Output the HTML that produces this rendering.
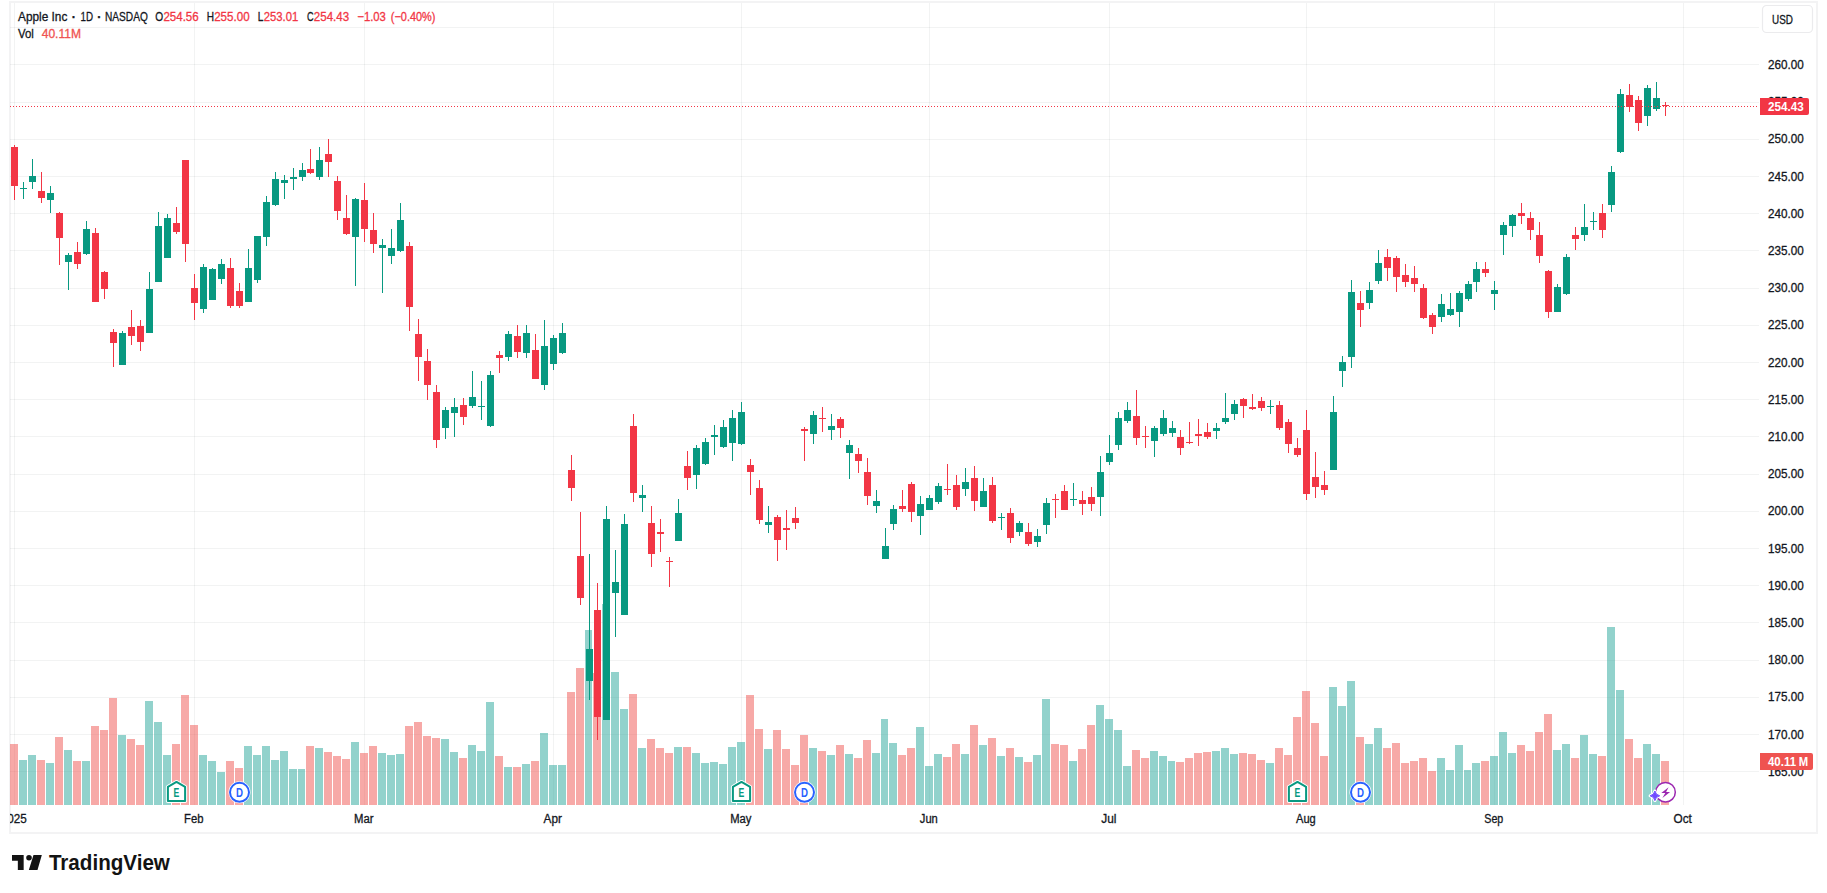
<!DOCTYPE html>
<html lang="en"><head><meta charset="utf-8"><title>AAPL chart</title>
<style>
html,body{margin:0;padding:0;background:#fff;}
body{width:1827px;height:893px;overflow:hidden;position:relative;font-family:"Liberation Sans",sans-serif;}
svg{position:absolute;left:0;top:0;display:block;}
text{font-family:"Liberation Sans",sans-serif;font-size:12px;fill:#131722;stroke:#131722;stroke-width:0.3px;}
.lg{font-size:12.3px;}
.g{fill:#089981}.r{fill:#f23645}.vg{fill:rgba(38,166,154,0.5)}.vr{fill:rgba(239,83,80,0.5)}.gl{fill:rgba(42,46,57,0.06)}
</style></head><body>
<svg width="1827" height="893" viewBox="0 0 1827 893">
<defs><clipPath id="cp"><rect x="10" y="3" width="1749" height="802"/></clipPath>
<clipPath id="ct"><rect x="10" y="805" width="1749" height="27"/></clipPath></defs>
<g shape-rendering="crispEdges">
<rect x="9" y="1" width="1809" height="2" fill="#f3f3f4"/>
<rect x="9" y="832" width="1809" height="2" fill="#f3f3f4"/>
<rect x="9" y="1" width="2" height="833" fill="#f3f3f4"/>
<rect x="1816" y="1" width="2" height="833" fill="#f3f3f4"/>
<rect class="gl" x="14" y="3" width="1" height="802"/>
<rect class="gl" x="194" y="3" width="1" height="802"/>
<rect class="gl" x="364" y="3" width="1" height="802"/>
<rect class="gl" x="553" y="3" width="1" height="802"/>
<rect class="gl" x="741" y="3" width="1" height="802"/>
<rect class="gl" x="929" y="3" width="1" height="802"/>
<rect class="gl" x="1109" y="3" width="1" height="802"/>
<rect class="gl" x="1306" y="3" width="1" height="802"/>
<rect class="gl" x="1494" y="3" width="1" height="802"/>
<rect class="gl" x="1683" y="3" width="1" height="802"/>
<rect class="gl" x="10" y="771" width="1749" height="1"/>
<rect class="gl" x="10" y="734" width="1749" height="1"/>
<rect class="gl" x="10" y="697" width="1749" height="1"/>
<rect class="gl" x="10" y="660" width="1749" height="1"/>
<rect class="gl" x="10" y="622" width="1749" height="1"/>
<rect class="gl" x="10" y="585" width="1749" height="1"/>
<rect class="gl" x="10" y="548" width="1749" height="1"/>
<rect class="gl" x="10" y="511" width="1749" height="1"/>
<rect class="gl" x="10" y="474" width="1749" height="1"/>
<rect class="gl" x="10" y="436" width="1749" height="1"/>
<rect class="gl" x="10" y="399" width="1749" height="1"/>
<rect class="gl" x="10" y="362" width="1749" height="1"/>
<rect class="gl" x="10" y="325" width="1749" height="1"/>
<rect class="gl" x="10" y="288" width="1749" height="1"/>
<rect class="gl" x="10" y="250" width="1749" height="1"/>
<rect class="gl" x="10" y="213" width="1749" height="1"/>
<rect class="gl" x="10" y="176" width="1749" height="1"/>
<rect class="gl" x="10" y="139" width="1749" height="1"/>
<rect class="gl" x="10" y="102" width="1749" height="1"/>
<rect class="gl" x="10" y="64" width="1749" height="1"/>
<rect class="gl" x="10" y="27" width="1749" height="1"/>
</g>
<g shape-rendering="crispEdges" clip-path="url(#cp)">
<rect class="vr" x="10" y="744" width="8" height="61"/>
<rect class="vg" x="19" y="760" width="8" height="45"/>
<rect class="vg" x="28" y="755" width="8" height="50"/>
<rect class="vr" x="37" y="760" width="8" height="45"/>
<rect class="vg" x="46" y="763" width="8" height="42"/>
<rect class="vr" x="55" y="737" width="8" height="68"/>
<rect class="vg" x="64" y="750" width="8" height="55"/>
<rect class="vr" x="73" y="761" width="8" height="44"/>
<rect class="vg" x="82" y="761" width="8" height="44"/>
<rect class="vr" x="91" y="726" width="8" height="79"/>
<rect class="vr" x="100" y="730" width="8" height="75"/>
<rect class="vr" x="109" y="698" width="8" height="107"/>
<rect class="vg" x="118" y="735" width="8" height="70"/>
<rect class="vr" x="127" y="739" width="8" height="66"/>
<rect class="vr" x="136" y="745" width="8" height="60"/>
<rect class="vg" x="145" y="701" width="8" height="104"/>
<rect class="vg" x="154" y="722" width="8" height="83"/>
<rect class="vg" x="163" y="755" width="8" height="50"/>
<rect class="vr" x="172" y="744" width="8" height="61"/>
<rect class="vr" x="181" y="695" width="8" height="110"/>
<rect class="vr" x="190" y="725" width="8" height="80"/>
<rect class="vg" x="199" y="755" width="8" height="50"/>
<rect class="vg" x="208" y="761" width="8" height="44"/>
<rect class="vg" x="217" y="772" width="8" height="33"/>
<rect class="vr" x="226" y="761" width="8" height="44"/>
<rect class="vr" x="235" y="768" width="8" height="37"/>
<rect class="vg" x="244" y="746" width="8" height="59"/>
<rect class="vg" x="253" y="755" width="8" height="50"/>
<rect class="vg" x="262" y="746" width="8" height="59"/>
<rect class="vg" x="271" y="760" width="8" height="45"/>
<rect class="vg" x="280" y="751" width="8" height="54"/>
<rect class="vg" x="289" y="769" width="8" height="36"/>
<rect class="vg" x="298" y="769" width="7" height="36"/>
<rect class="vr" x="306" y="746" width="8" height="59"/>
<rect class="vg" x="315" y="748" width="8" height="57"/>
<rect class="vr" x="324" y="752" width="8" height="53"/>
<rect class="vr" x="333" y="756" width="8" height="49"/>
<rect class="vr" x="342" y="759" width="8" height="46"/>
<rect class="vg" x="351" y="742" width="8" height="63"/>
<rect class="vr" x="360" y="753" width="8" height="52"/>
<rect class="vr" x="369" y="746" width="8" height="59"/>
<rect class="vg" x="378" y="753" width="8" height="52"/>
<rect class="vg" x="387" y="755" width="8" height="50"/>
<rect class="vg" x="396" y="754" width="8" height="51"/>
<rect class="vr" x="405" y="726" width="8" height="79"/>
<rect class="vr" x="414" y="722" width="8" height="83"/>
<rect class="vr" x="423" y="736" width="8" height="69"/>
<rect class="vr" x="432" y="738" width="8" height="67"/>
<rect class="vg" x="441" y="739" width="8" height="66"/>
<rect class="vg" x="450" y="752" width="8" height="53"/>
<rect class="vr" x="459" y="758" width="8" height="47"/>
<rect class="vg" x="468" y="745" width="8" height="60"/>
<rect class="vg" x="477" y="751" width="8" height="54"/>
<rect class="vg" x="486" y="702" width="8" height="103"/>
<rect class="vr" x="495" y="756" width="8" height="49"/>
<rect class="vg" x="504" y="767" width="8" height="38"/>
<rect class="vr" x="513" y="767" width="8" height="38"/>
<rect class="vg" x="522" y="764" width="8" height="41"/>
<rect class="vr" x="531" y="761" width="8" height="44"/>
<rect class="vg" x="540" y="733" width="8" height="72"/>
<rect class="vg" x="549" y="765" width="8" height="40"/>
<rect class="vg" x="558" y="765" width="8" height="40"/>
<rect class="vr" x="567" y="692" width="8" height="113"/>
<rect class="vr" x="576" y="668" width="8" height="137"/>
<rect class="vg" x="585" y="630" width="7" height="175"/>
<rect class="vr" x="593" y="673" width="8" height="132"/>
<rect class="vg" x="602" y="604" width="8" height="201"/>
<rect class="vg" x="611" y="672" width="8" height="133"/>
<rect class="vg" x="620" y="709" width="8" height="96"/>
<rect class="vr" x="629" y="694" width="8" height="111"/>
<rect class="vg" x="638" y="748" width="8" height="57"/>
<rect class="vr" x="647" y="739" width="8" height="66"/>
<rect class="vr" x="656" y="748" width="8" height="57"/>
<rect class="vr" x="665" y="753" width="8" height="52"/>
<rect class="vg" x="674" y="747" width="8" height="58"/>
<rect class="vr" x="683" y="747" width="8" height="58"/>
<rect class="vg" x="692" y="753" width="8" height="52"/>
<rect class="vg" x="701" y="763" width="8" height="42"/>
<rect class="vg" x="710" y="762" width="8" height="43"/>
<rect class="vg" x="719" y="764" width="8" height="41"/>
<rect class="vg" x="728" y="747" width="8" height="58"/>
<rect class="vg" x="737" y="742" width="8" height="63"/>
<rect class="vr" x="746" y="695" width="8" height="110"/>
<rect class="vr" x="755" y="729" width="8" height="76"/>
<rect class="vg" x="764" y="749" width="8" height="56"/>
<rect class="vr" x="773" y="730" width="8" height="75"/>
<rect class="vr" x="782" y="749" width="8" height="56"/>
<rect class="vr" x="791" y="765" width="8" height="40"/>
<rect class="vr" x="800" y="735" width="8" height="70"/>
<rect class="vg" x="809" y="748" width="8" height="57"/>
<rect class="vr" x="818" y="751" width="8" height="54"/>
<rect class="vg" x="827" y="755" width="8" height="50"/>
<rect class="vr" x="836" y="745" width="8" height="60"/>
<rect class="vg" x="845" y="754" width="8" height="51"/>
<rect class="vr" x="854" y="758" width="8" height="47"/>
<rect class="vr" x="863" y="740" width="8" height="65"/>
<rect class="vg" x="872" y="753" width="8" height="52"/>
<rect class="vg" x="881" y="719" width="7" height="86"/>
<rect class="vg" x="889" y="743" width="8" height="62"/>
<rect class="vr" x="898" y="755" width="8" height="50"/>
<rect class="vr" x="907" y="748" width="8" height="57"/>
<rect class="vg" x="916" y="727" width="8" height="78"/>
<rect class="vg" x="925" y="766" width="8" height="39"/>
<rect class="vg" x="934" y="754" width="8" height="51"/>
<rect class="vr" x="943" y="757" width="8" height="48"/>
<rect class="vr" x="952" y="744" width="8" height="61"/>
<rect class="vg" x="961" y="754" width="8" height="51"/>
<rect class="vr" x="970" y="725" width="8" height="80"/>
<rect class="vg" x="979" y="745" width="8" height="60"/>
<rect class="vr" x="988" y="738" width="8" height="67"/>
<rect class="vg" x="997" y="756" width="8" height="49"/>
<rect class="vr" x="1006" y="748" width="8" height="57"/>
<rect class="vg" x="1015" y="757" width="8" height="48"/>
<rect class="vr" x="1024" y="762" width="8" height="43"/>
<rect class="vg" x="1033" y="755" width="8" height="50"/>
<rect class="vg" x="1042" y="699" width="8" height="106"/>
<rect class="vr" x="1051" y="744" width="8" height="61"/>
<rect class="vr" x="1060" y="745" width="8" height="60"/>
<rect class="vg" x="1069" y="761" width="8" height="44"/>
<rect class="vr" x="1078" y="749" width="8" height="56"/>
<rect class="vr" x="1087" y="725" width="8" height="80"/>
<rect class="vg" x="1096" y="705" width="8" height="100"/>
<rect class="vg" x="1105" y="719" width="8" height="86"/>
<rect class="vg" x="1114" y="730" width="8" height="75"/>
<rect class="vg" x="1123" y="766" width="8" height="39"/>
<rect class="vr" x="1132" y="750" width="8" height="55"/>
<rect class="vr" x="1141" y="758" width="8" height="47"/>
<rect class="vg" x="1150" y="751" width="8" height="54"/>
<rect class="vg" x="1159" y="756" width="8" height="49"/>
<rect class="vg" x="1168" y="761" width="7" height="44"/>
<rect class="vr" x="1176" y="762" width="8" height="43"/>
<rect class="vr" x="1185" y="758" width="8" height="47"/>
<rect class="vr" x="1194" y="753" width="8" height="52"/>
<rect class="vr" x="1203" y="752" width="8" height="53"/>
<rect class="vg" x="1212" y="751" width="8" height="54"/>
<rect class="vg" x="1221" y="748" width="8" height="57"/>
<rect class="vg" x="1230" y="754" width="8" height="51"/>
<rect class="vr" x="1239" y="753" width="8" height="52"/>
<rect class="vr" x="1248" y="754" width="8" height="51"/>
<rect class="vr" x="1257" y="760" width="8" height="45"/>
<rect class="vg" x="1266" y="763" width="8" height="42"/>
<rect class="vr" x="1275" y="748" width="8" height="57"/>
<rect class="vr" x="1284" y="755" width="8" height="50"/>
<rect class="vr" x="1293" y="717" width="8" height="88"/>
<rect class="vr" x="1302" y="691" width="8" height="114"/>
<rect class="vr" x="1311" y="723" width="8" height="82"/>
<rect class="vr" x="1320" y="756" width="8" height="49"/>
<rect class="vg" x="1329" y="687" width="8" height="118"/>
<rect class="vg" x="1338" y="706" width="8" height="99"/>
<rect class="vg" x="1347" y="681" width="8" height="124"/>
<rect class="vr" x="1356" y="737" width="8" height="68"/>
<rect class="vg" x="1365" y="744" width="8" height="61"/>
<rect class="vg" x="1374" y="728" width="8" height="77"/>
<rect class="vr" x="1383" y="748" width="8" height="57"/>
<rect class="vr" x="1392" y="743" width="8" height="62"/>
<rect class="vr" x="1401" y="763" width="8" height="42"/>
<rect class="vr" x="1410" y="761" width="8" height="44"/>
<rect class="vr" x="1419" y="758" width="8" height="47"/>
<rect class="vr" x="1428" y="771" width="8" height="34"/>
<rect class="vg" x="1437" y="758" width="8" height="47"/>
<rect class="vg" x="1446" y="770" width="8" height="35"/>
<rect class="vg" x="1455" y="745" width="8" height="60"/>
<rect class="vg" x="1464" y="770" width="7" height="35"/>
<rect class="vg" x="1472" y="763" width="8" height="42"/>
<rect class="vr" x="1481" y="761" width="8" height="44"/>
<rect class="vg" x="1490" y="756" width="8" height="49"/>
<rect class="vg" x="1499" y="732" width="8" height="73"/>
<rect class="vg" x="1508" y="753" width="8" height="52"/>
<rect class="vr" x="1517" y="745" width="8" height="60"/>
<rect class="vr" x="1526" y="751" width="8" height="54"/>
<rect class="vr" x="1535" y="732" width="8" height="73"/>
<rect class="vr" x="1544" y="714" width="8" height="91"/>
<rect class="vg" x="1553" y="750" width="8" height="55"/>
<rect class="vg" x="1562" y="744" width="8" height="61"/>
<rect class="vr" x="1571" y="758" width="8" height="47"/>
<rect class="vg" x="1580" y="735" width="8" height="70"/>
<rect class="vg" x="1589" y="754" width="8" height="51"/>
<rect class="vr" x="1598" y="756" width="8" height="49"/>
<rect class="vg" x="1607" y="627" width="8" height="178"/>
<rect class="vg" x="1616" y="690" width="8" height="115"/>
<rect class="vr" x="1625" y="739" width="8" height="66"/>
<rect class="vr" x="1634" y="758" width="8" height="47"/>
<rect class="vg" x="1643" y="744" width="8" height="61"/>
<rect class="vg" x="1652" y="754" width="8" height="51"/>
<rect class="vr" x="1661" y="761" width="8" height="44"/>
</g>
<g shape-rendering="crispEdges" clip-path="url(#cp)">
<rect class="r" x="14" y="145" width="1" height="55"/>
<rect class="r" x="11" y="147" width="7" height="39"/>
<rect class="g" x="23" y="182" width="1" height="17"/>
<rect class="g" x="20" y="188" width="7" height="1"/>
<rect class="g" x="32" y="159" width="1" height="30"/>
<rect class="g" x="29" y="176" width="7" height="6"/>
<rect class="r" x="41" y="172" width="1" height="31"/>
<rect class="r" x="38" y="191" width="7" height="7"/>
<rect class="g" x="50" y="186" width="1" height="27"/>
<rect class="g" x="47" y="193" width="7" height="7"/>
<rect class="r" x="59" y="212" width="1" height="53"/>
<rect class="r" x="56" y="213" width="7" height="25"/>
<rect class="g" x="68" y="253" width="1" height="37"/>
<rect class="g" x="65" y="255" width="7" height="7"/>
<rect class="r" x="77" y="242" width="1" height="27"/>
<rect class="r" x="74" y="252" width="7" height="12"/>
<rect class="g" x="86" y="221" width="1" height="34"/>
<rect class="g" x="83" y="229" width="7" height="25"/>
<rect class="r" x="95" y="228" width="1" height="74"/>
<rect class="r" x="92" y="233" width="7" height="69"/>
<rect class="r" x="104" y="271" width="1" height="28"/>
<rect class="r" x="101" y="272" width="7" height="17"/>
<rect class="r" x="113" y="329" width="1" height="38"/>
<rect class="r" x="110" y="332" width="7" height="11"/>
<rect class="g" x="122" y="331" width="1" height="34"/>
<rect class="g" x="119" y="333" width="7" height="32"/>
<rect class="r" x="131" y="310" width="1" height="35"/>
<rect class="r" x="128" y="327" width="7" height="9"/>
<rect class="r" x="140" y="320" width="1" height="31"/>
<rect class="r" x="137" y="326" width="7" height="16"/>
<rect class="g" x="149" y="272" width="1" height="61"/>
<rect class="g" x="146" y="289" width="7" height="44"/>
<rect class="g" x="158" y="212" width="1" height="70"/>
<rect class="g" x="155" y="226" width="7" height="56"/>
<rect class="g" x="167" y="214" width="1" height="44"/>
<rect class="g" x="164" y="218" width="7" height="40"/>
<rect class="r" x="176" y="207" width="1" height="27"/>
<rect class="r" x="173" y="223" width="7" height="9"/>
<rect class="r" x="185" y="160" width="1" height="102"/>
<rect class="r" x="182" y="160" width="7" height="84"/>
<rect class="r" x="194" y="274" width="1" height="46"/>
<rect class="r" x="191" y="288" width="7" height="15"/>
<rect class="g" x="203" y="264" width="1" height="49"/>
<rect class="g" x="200" y="267" width="7" height="42"/>
<rect class="g" x="212" y="268" width="1" height="32"/>
<rect class="g" x="209" y="269" width="7" height="31"/>
<rect class="g" x="221" y="259" width="1" height="25"/>
<rect class="g" x="218" y="264" width="7" height="15"/>
<rect class="r" x="230" y="258" width="1" height="50"/>
<rect class="r" x="227" y="268" width="7" height="38"/>
<rect class="r" x="239" y="283" width="1" height="25"/>
<rect class="r" x="236" y="291" width="7" height="15"/>
<rect class="g" x="248" y="249" width="1" height="53"/>
<rect class="g" x="245" y="268" width="7" height="34"/>
<rect class="g" x="257" y="236" width="1" height="47"/>
<rect class="g" x="254" y="236" width="7" height="44"/>
<rect class="g" x="266" y="196" width="1" height="50"/>
<rect class="g" x="263" y="202" width="7" height="35"/>
<rect class="g" x="275" y="172" width="1" height="34"/>
<rect class="g" x="272" y="179" width="7" height="26"/>
<rect class="g" x="284" y="175" width="1" height="24"/>
<rect class="g" x="281" y="180" width="7" height="3"/>
<rect class="g" x="293" y="168" width="1" height="22"/>
<rect class="g" x="290" y="177" width="7" height="2"/>
<rect class="g" x="302" y="163" width="1" height="18"/>
<rect class="g" x="299" y="170" width="7" height="7"/>
<rect class="r" x="310" y="149" width="1" height="25"/>
<rect class="r" x="307" y="169" width="7" height="4"/>
<rect class="g" x="319" y="147" width="1" height="33"/>
<rect class="g" x="316" y="160" width="7" height="17"/>
<rect class="r" x="328" y="139" width="1" height="38"/>
<rect class="r" x="325" y="154" width="7" height="8"/>
<rect class="r" x="337" y="176" width="1" height="44"/>
<rect class="r" x="334" y="181" width="7" height="30"/>
<rect class="r" x="346" y="195" width="1" height="40"/>
<rect class="r" x="343" y="218" width="7" height="16"/>
<rect class="g" x="355" y="198" width="1" height="88"/>
<rect class="g" x="352" y="199" width="7" height="38"/>
<rect class="r" x="364" y="183" width="1" height="59"/>
<rect class="r" x="361" y="200" width="7" height="29"/>
<rect class="r" x="373" y="213" width="1" height="40"/>
<rect class="r" x="370" y="230" width="7" height="14"/>
<rect class="g" x="382" y="239" width="1" height="54"/>
<rect class="g" x="379" y="245" width="7" height="3"/>
<rect class="g" x="391" y="229" width="1" height="35"/>
<rect class="g" x="388" y="248" width="7" height="8"/>
<rect class="g" x="400" y="203" width="1" height="49"/>
<rect class="g" x="397" y="220" width="7" height="31"/>
<rect class="r" x="409" y="242" width="1" height="89"/>
<rect class="r" x="406" y="246" width="7" height="61"/>
<rect class="r" x="418" y="319" width="1" height="62"/>
<rect class="r" x="415" y="334" width="7" height="23"/>
<rect class="r" x="427" y="349" width="1" height="51"/>
<rect class="r" x="424" y="361" width="7" height="24"/>
<rect class="r" x="436" y="385" width="1" height="63"/>
<rect class="r" x="433" y="392" width="7" height="48"/>
<rect class="g" x="445" y="407" width="1" height="32"/>
<rect class="g" x="442" y="410" width="7" height="18"/>
<rect class="g" x="454" y="398" width="1" height="39"/>
<rect class="g" x="451" y="407" width="7" height="6"/>
<rect class="r" x="463" y="398" width="1" height="27"/>
<rect class="r" x="460" y="405" width="7" height="12"/>
<rect class="g" x="472" y="371" width="1" height="37"/>
<rect class="g" x="469" y="397" width="7" height="9"/>
<rect class="g" x="481" y="381" width="1" height="39"/>
<rect class="g" x="478" y="406" width="7" height="1"/>
<rect class="g" x="490" y="371" width="1" height="56"/>
<rect class="g" x="487" y="375" width="7" height="51"/>
<rect class="r" x="499" y="351" width="1" height="22"/>
<rect class="r" x="496" y="355" width="7" height="3"/>
<rect class="g" x="508" y="331" width="1" height="30"/>
<rect class="g" x="505" y="334" width="7" height="23"/>
<rect class="r" x="517" y="325" width="1" height="33"/>
<rect class="r" x="514" y="336" width="7" height="16"/>
<rect class="g" x="526" y="325" width="1" height="33"/>
<rect class="g" x="523" y="333" width="7" height="20"/>
<rect class="r" x="535" y="334" width="1" height="45"/>
<rect class="r" x="532" y="350" width="7" height="29"/>
<rect class="g" x="544" y="320" width="1" height="70"/>
<rect class="g" x="541" y="346" width="7" height="39"/>
<rect class="g" x="553" y="335" width="1" height="35"/>
<rect class="g" x="550" y="338" width="7" height="26"/>
<rect class="g" x="562" y="323" width="1" height="31"/>
<rect class="g" x="559" y="333" width="7" height="20"/>
<rect class="r" x="571" y="455" width="1" height="46"/>
<rect class="r" x="568" y="470" width="7" height="18"/>
<rect class="r" x="580" y="512" width="1" height="93"/>
<rect class="r" x="577" y="556" width="7" height="42"/>
<rect class="g" x="589" y="554" width="1" height="146"/>
<rect class="g" x="586" y="649" width="7" height="32"/>
<rect class="r" x="597" y="583" width="1" height="157"/>
<rect class="r" x="594" y="610" width="7" height="107"/>
<rect class="g" x="606" y="506" width="1" height="214"/>
<rect class="g" x="603" y="519" width="7" height="201"/>
<rect class="g" x="615" y="550" width="1" height="87"/>
<rect class="g" x="612" y="582" width="7" height="11"/>
<rect class="g" x="624" y="514" width="1" height="101"/>
<rect class="g" x="621" y="524" width="7" height="91"/>
<rect class="r" x="633" y="414" width="1" height="88"/>
<rect class="r" x="630" y="426" width="7" height="67"/>
<rect class="g" x="642" y="485" width="1" height="27"/>
<rect class="g" x="639" y="495" width="7" height="3"/>
<rect class="r" x="651" y="506" width="1" height="61"/>
<rect class="r" x="648" y="523" width="7" height="31"/>
<rect class="r" x="660" y="519" width="1" height="33"/>
<rect class="r" x="657" y="532" width="7" height="2"/>
<rect class="r" x="669" y="557" width="1" height="30"/>
<rect class="r" x="666" y="561" width="7" height="1"/>
<rect class="g" x="678" y="499" width="1" height="42"/>
<rect class="g" x="675" y="513" width="7" height="28"/>
<rect class="r" x="687" y="451" width="1" height="39"/>
<rect class="r" x="684" y="466" width="7" height="12"/>
<rect class="g" x="696" y="445" width="1" height="44"/>
<rect class="g" x="693" y="448" width="7" height="27"/>
<rect class="g" x="705" y="438" width="1" height="27"/>
<rect class="g" x="702" y="442" width="7" height="22"/>
<rect class="g" x="714" y="425" width="1" height="30"/>
<rect class="g" x="711" y="435" width="7" height="2"/>
<rect class="g" x="723" y="420" width="1" height="28"/>
<rect class="g" x="720" y="427" width="7" height="20"/>
<rect class="g" x="732" y="410" width="1" height="51"/>
<rect class="g" x="729" y="418" width="7" height="25"/>
<rect class="g" x="741" y="402" width="1" height="43"/>
<rect class="g" x="738" y="412" width="7" height="32"/>
<rect class="r" x="750" y="459" width="1" height="36"/>
<rect class="r" x="747" y="465" width="7" height="7"/>
<rect class="r" x="759" y="480" width="1" height="44"/>
<rect class="r" x="756" y="488" width="7" height="32"/>
<rect class="g" x="768" y="506" width="1" height="27"/>
<rect class="g" x="765" y="522" width="7" height="3"/>
<rect class="r" x="777" y="515" width="1" height="46"/>
<rect class="r" x="774" y="517" width="7" height="23"/>
<rect class="r" x="786" y="510" width="1" height="40"/>
<rect class="r" x="783" y="528" width="7" height="2"/>
<rect class="r" x="795" y="507" width="1" height="22"/>
<rect class="r" x="792" y="518" width="7" height="5"/>
<rect class="r" x="804" y="427" width="1" height="34"/>
<rect class="r" x="801" y="429" width="7" height="2"/>
<rect class="g" x="813" y="411" width="1" height="33"/>
<rect class="g" x="810" y="415" width="7" height="19"/>
<rect class="r" x="822" y="407" width="1" height="25"/>
<rect class="r" x="819" y="418" width="7" height="1"/>
<rect class="g" x="831" y="414" width="1" height="26"/>
<rect class="g" x="828" y="426" width="7" height="4"/>
<rect class="r" x="840" y="417" width="1" height="21"/>
<rect class="r" x="837" y="419" width="7" height="9"/>
<rect class="g" x="849" y="440" width="1" height="39"/>
<rect class="g" x="846" y="445" width="7" height="8"/>
<rect class="r" x="858" y="448" width="1" height="25"/>
<rect class="r" x="855" y="454" width="7" height="7"/>
<rect class="r" x="867" y="458" width="1" height="47"/>
<rect class="r" x="864" y="472" width="7" height="24"/>
<rect class="g" x="876" y="490" width="1" height="23"/>
<rect class="g" x="873" y="501" width="7" height="5"/>
<rect class="g" x="885" y="528" width="1" height="31"/>
<rect class="g" x="882" y="546" width="7" height="13"/>
<rect class="g" x="893" y="505" width="1" height="25"/>
<rect class="g" x="890" y="509" width="7" height="15"/>
<rect class="r" x="902" y="490" width="1" height="22"/>
<rect class="r" x="899" y="506" width="7" height="3"/>
<rect class="r" x="911" y="482" width="1" height="40"/>
<rect class="r" x="908" y="484" width="7" height="28"/>
<rect class="g" x="920" y="496" width="1" height="39"/>
<rect class="g" x="917" y="504" width="7" height="12"/>
<rect class="g" x="929" y="495" width="1" height="15"/>
<rect class="g" x="926" y="498" width="7" height="12"/>
<rect class="g" x="938" y="483" width="1" height="21"/>
<rect class="g" x="935" y="486" width="7" height="16"/>
<rect class="r" x="947" y="464" width="1" height="31"/>
<rect class="r" x="944" y="489" width="7" height="1"/>
<rect class="r" x="956" y="475" width="1" height="35"/>
<rect class="r" x="953" y="485" width="7" height="22"/>
<rect class="g" x="965" y="468" width="1" height="28"/>
<rect class="g" x="962" y="482" width="7" height="7"/>
<rect class="r" x="974" y="466" width="1" height="45"/>
<rect class="r" x="971" y="478" width="7" height="23"/>
<rect class="g" x="983" y="478" width="1" height="29"/>
<rect class="g" x="980" y="491" width="7" height="16"/>
<rect class="r" x="992" y="477" width="1" height="46"/>
<rect class="r" x="989" y="485" width="7" height="36"/>
<rect class="g" x="1001" y="513" width="1" height="17"/>
<rect class="g" x="998" y="517" width="7" height="1"/>
<rect class="r" x="1010" y="508" width="1" height="35"/>
<rect class="r" x="1007" y="513" width="7" height="25"/>
<rect class="g" x="1019" y="521" width="1" height="15"/>
<rect class="g" x="1016" y="523" width="7" height="9"/>
<rect class="r" x="1028" y="523" width="1" height="23"/>
<rect class="r" x="1025" y="532" width="7" height="12"/>
<rect class="g" x="1037" y="529" width="1" height="18"/>
<rect class="g" x="1034" y="536" width="7" height="6"/>
<rect class="g" x="1046" y="498" width="1" height="36"/>
<rect class="g" x="1043" y="503" width="7" height="22"/>
<rect class="r" x="1055" y="494" width="1" height="24"/>
<rect class="r" x="1052" y="499" width="7" height="1"/>
<rect class="r" x="1064" y="485" width="1" height="25"/>
<rect class="r" x="1061" y="491" width="7" height="19"/>
<rect class="g" x="1073" y="483" width="1" height="23"/>
<rect class="g" x="1070" y="499" width="7" height="1"/>
<rect class="r" x="1082" y="491" width="1" height="24"/>
<rect class="r" x="1079" y="500" width="7" height="4"/>
<rect class="r" x="1091" y="487" width="1" height="24"/>
<rect class="r" x="1088" y="497" width="7" height="7"/>
<rect class="g" x="1100" y="456" width="1" height="60"/>
<rect class="g" x="1097" y="472" width="7" height="25"/>
<rect class="g" x="1109" y="435" width="1" height="30"/>
<rect class="g" x="1106" y="453" width="7" height="9"/>
<rect class="g" x="1118" y="412" width="1" height="38"/>
<rect class="g" x="1115" y="418" width="7" height="27"/>
<rect class="g" x="1127" y="402" width="1" height="21"/>
<rect class="g" x="1124" y="410" width="7" height="11"/>
<rect class="r" x="1136" y="390" width="1" height="55"/>
<rect class="r" x="1133" y="416" width="7" height="22"/>
<rect class="r" x="1145" y="426" width="1" height="22"/>
<rect class="r" x="1142" y="436" width="7" height="1"/>
<rect class="g" x="1154" y="426" width="1" height="31"/>
<rect class="g" x="1151" y="428" width="7" height="13"/>
<rect class="g" x="1163" y="410" width="1" height="26"/>
<rect class="g" x="1160" y="418" width="7" height="16"/>
<rect class="g" x="1172" y="421" width="1" height="16"/>
<rect class="g" x="1169" y="428" width="7" height="5"/>
<rect class="r" x="1180" y="430" width="1" height="25"/>
<rect class="r" x="1177" y="437" width="7" height="11"/>
<rect class="r" x="1189" y="422" width="1" height="22"/>
<rect class="r" x="1186" y="442" width="7" height="1"/>
<rect class="r" x="1198" y="419" width="1" height="27"/>
<rect class="r" x="1195" y="434" width="7" height="2"/>
<rect class="r" x="1207" y="423" width="1" height="16"/>
<rect class="r" x="1204" y="432" width="7" height="5"/>
<rect class="g" x="1216" y="423" width="1" height="16"/>
<rect class="g" x="1213" y="428" width="7" height="3"/>
<rect class="g" x="1225" y="393" width="1" height="31"/>
<rect class="g" x="1222" y="418" width="7" height="4"/>
<rect class="g" x="1234" y="400" width="1" height="20"/>
<rect class="g" x="1231" y="404" width="7" height="10"/>
<rect class="r" x="1243" y="398" width="1" height="20"/>
<rect class="r" x="1240" y="399" width="7" height="7"/>
<rect class="r" x="1252" y="394" width="1" height="16"/>
<rect class="r" x="1249" y="407" width="7" height="2"/>
<rect class="r" x="1261" y="397" width="1" height="14"/>
<rect class="r" x="1258" y="401" width="7" height="7"/>
<rect class="g" x="1270" y="400" width="1" height="14"/>
<rect class="g" x="1267" y="406" width="7" height="1"/>
<rect class="r" x="1279" y="401" width="1" height="29"/>
<rect class="r" x="1276" y="405" width="7" height="23"/>
<rect class="r" x="1288" y="419" width="1" height="34"/>
<rect class="r" x="1285" y="422" width="7" height="22"/>
<rect class="r" x="1297" y="438" width="1" height="19"/>
<rect class="r" x="1294" y="448" width="7" height="7"/>
<rect class="r" x="1306" y="410" width="1" height="90"/>
<rect class="r" x="1303" y="430" width="7" height="64"/>
<rect class="r" x="1315" y="452" width="1" height="46"/>
<rect class="r" x="1312" y="477" width="7" height="10"/>
<rect class="r" x="1324" y="471" width="1" height="24"/>
<rect class="r" x="1321" y="485" width="7" height="5"/>
<rect class="g" x="1333" y="396" width="1" height="74"/>
<rect class="g" x="1330" y="412" width="7" height="58"/>
<rect class="g" x="1342" y="356" width="1" height="31"/>
<rect class="g" x="1339" y="362" width="7" height="9"/>
<rect class="g" x="1351" y="280" width="1" height="88"/>
<rect class="g" x="1348" y="292" width="7" height="65"/>
<rect class="r" x="1360" y="291" width="1" height="36"/>
<rect class="r" x="1357" y="303" width="7" height="7"/>
<rect class="g" x="1369" y="282" width="1" height="27"/>
<rect class="g" x="1366" y="290" width="7" height="13"/>
<rect class="g" x="1378" y="250" width="1" height="34"/>
<rect class="g" x="1375" y="263" width="7" height="18"/>
<rect class="r" x="1387" y="249" width="1" height="32"/>
<rect class="r" x="1384" y="257" width="7" height="11"/>
<rect class="r" x="1396" y="256" width="1" height="36"/>
<rect class="r" x="1393" y="258" width="7" height="19"/>
<rect class="r" x="1405" y="264" width="1" height="23"/>
<rect class="r" x="1402" y="275" width="7" height="7"/>
<rect class="r" x="1414" y="266" width="1" height="26"/>
<rect class="r" x="1411" y="278" width="7" height="6"/>
<rect class="r" x="1423" y="284" width="1" height="35"/>
<rect class="r" x="1420" y="288" width="7" height="30"/>
<rect class="r" x="1432" y="313" width="1" height="21"/>
<rect class="r" x="1429" y="315" width="7" height="12"/>
<rect class="g" x="1441" y="294" width="1" height="28"/>
<rect class="g" x="1438" y="304" width="7" height="13"/>
<rect class="g" x="1450" y="293" width="1" height="23"/>
<rect class="g" x="1447" y="309" width="7" height="6"/>
<rect class="g" x="1459" y="291" width="1" height="36"/>
<rect class="g" x="1456" y="293" width="7" height="19"/>
<rect class="g" x="1468" y="281" width="1" height="20"/>
<rect class="g" x="1465" y="284" width="7" height="15"/>
<rect class="g" x="1476" y="262" width="1" height="30"/>
<rect class="g" x="1473" y="269" width="7" height="13"/>
<rect class="r" x="1485" y="262" width="1" height="15"/>
<rect class="r" x="1482" y="269" width="7" height="4"/>
<rect class="g" x="1494" y="281" width="1" height="29"/>
<rect class="g" x="1491" y="290" width="7" height="4"/>
<rect class="g" x="1503" y="222" width="1" height="33"/>
<rect class="g" x="1500" y="225" width="7" height="10"/>
<rect class="g" x="1512" y="214" width="1" height="23"/>
<rect class="g" x="1509" y="215" width="7" height="11"/>
<rect class="r" x="1521" y="203" width="1" height="21"/>
<rect class="r" x="1518" y="213" width="7" height="3"/>
<rect class="r" x="1530" y="212" width="1" height="28"/>
<rect class="r" x="1527" y="218" width="7" height="12"/>
<rect class="r" x="1539" y="222" width="1" height="41"/>
<rect class="r" x="1536" y="235" width="7" height="21"/>
<rect class="r" x="1548" y="270" width="1" height="48"/>
<rect class="r" x="1545" y="271" width="7" height="41"/>
<rect class="g" x="1557" y="284" width="1" height="28"/>
<rect class="g" x="1554" y="287" width="7" height="25"/>
<rect class="g" x="1566" y="254" width="1" height="41"/>
<rect class="g" x="1563" y="257" width="7" height="37"/>
<rect class="r" x="1575" y="227" width="1" height="23"/>
<rect class="r" x="1572" y="235" width="7" height="4"/>
<rect class="g" x="1584" y="204" width="1" height="37"/>
<rect class="g" x="1581" y="227" width="7" height="8"/>
<rect class="g" x="1593" y="212" width="1" height="18"/>
<rect class="g" x="1590" y="221" width="7" height="1"/>
<rect class="r" x="1602" y="204" width="1" height="34"/>
<rect class="r" x="1599" y="213" width="7" height="17"/>
<rect class="g" x="1611" y="166" width="1" height="46"/>
<rect class="g" x="1608" y="172" width="7" height="33"/>
<rect class="g" x="1620" y="89" width="1" height="64"/>
<rect class="g" x="1617" y="94" width="7" height="58"/>
<rect class="r" x="1629" y="84" width="1" height="28"/>
<rect class="r" x="1626" y="95" width="7" height="12"/>
<rect class="r" x="1638" y="96" width="1" height="35"/>
<rect class="r" x="1635" y="100" width="7" height="23"/>
<rect class="g" x="1647" y="85" width="1" height="41"/>
<rect class="g" x="1644" y="88" width="7" height="28"/>
<rect class="g" x="1656" y="82" width="1" height="29"/>
<rect class="g" x="1653" y="98" width="7" height="11"/>
<rect class="r" x="1665" y="102" width="1" height="14"/>
<rect class="r" x="1662" y="105" width="7" height="1"/>
</g>
<line x1="10" y1="106.5" x2="1759" y2="106.5" stroke="#f23645" stroke-width="1" stroke-dasharray="1 2" shape-rendering="crispEdges"/>
<text x="1768" y="775.7" style="font-size:12.5px" textLength="35.8" lengthAdjust="spacingAndGlyphs">165.00</text>
<text x="1768" y="738.5" style="font-size:12.5px" textLength="35.8" lengthAdjust="spacingAndGlyphs">170.00</text>
<text x="1768" y="701.3" style="font-size:12.5px" textLength="35.8" lengthAdjust="spacingAndGlyphs">175.00</text>
<text x="1768" y="664.1" style="font-size:12.5px" textLength="35.8" lengthAdjust="spacingAndGlyphs">180.00</text>
<text x="1768" y="626.9" style="font-size:12.5px" textLength="35.8" lengthAdjust="spacingAndGlyphs">185.00</text>
<text x="1768" y="589.7" style="font-size:12.5px" textLength="35.8" lengthAdjust="spacingAndGlyphs">190.00</text>
<text x="1768" y="552.5" style="font-size:12.5px" textLength="35.8" lengthAdjust="spacingAndGlyphs">195.00</text>
<text x="1768" y="515.3" style="font-size:12.5px" textLength="35.8" lengthAdjust="spacingAndGlyphs">200.00</text>
<text x="1768" y="478.1" style="font-size:12.5px" textLength="35.8" lengthAdjust="spacingAndGlyphs">205.00</text>
<text x="1768" y="440.9" style="font-size:12.5px" textLength="35.8" lengthAdjust="spacingAndGlyphs">210.00</text>
<text x="1768" y="403.7" style="font-size:12.5px" textLength="35.8" lengthAdjust="spacingAndGlyphs">215.00</text>
<text x="1768" y="366.5" style="font-size:12.5px" textLength="35.8" lengthAdjust="spacingAndGlyphs">220.00</text>
<text x="1768" y="329.3" style="font-size:12.5px" textLength="35.8" lengthAdjust="spacingAndGlyphs">225.00</text>
<text x="1768" y="292.1" style="font-size:12.5px" textLength="35.8" lengthAdjust="spacingAndGlyphs">230.00</text>
<text x="1768" y="254.9" style="font-size:12.5px" textLength="35.8" lengthAdjust="spacingAndGlyphs">235.00</text>
<text x="1768" y="217.7" style="font-size:12.5px" textLength="35.8" lengthAdjust="spacingAndGlyphs">240.00</text>
<text x="1768" y="180.5" style="font-size:12.5px" textLength="35.8" lengthAdjust="spacingAndGlyphs">245.00</text>
<text x="1768" y="143.3" style="font-size:12.5px" textLength="35.8" lengthAdjust="spacingAndGlyphs">250.00</text>
<text x="1768" y="106.1" style="font-size:12.5px" textLength="35.8" lengthAdjust="spacingAndGlyphs">255.00</text>
<text x="1768" y="68.9" style="font-size:12.5px" textLength="35.8" lengthAdjust="spacingAndGlyphs">260.00</text>
<path d="M1760 98H1807a2 2 0 0 1 2 2V113a2 2 0 0 1 -2 2H1760Z" fill="#f23645"/>
<text x="1768" y="110.9" style="fill:#fff;stroke:none;font-weight:bold" textLength="35.8" lengthAdjust="spacingAndGlyphs">254.43</text>
<path d="M1760 753H1811a2 2 0 0 1 2 2V768a2 2 0 0 1 -2 2H1760Z" fill="#ef5350"/>
<text x="1768" y="765.9" style="fill:#fff;stroke:none;font-weight:bold" textLength="28" lengthAdjust="spacingAndGlyphs">40.11</text>
<text x="1798.8" y="765.9" style="fill:#fff;stroke:none;font-weight:bold" textLength="9.4" lengthAdjust="spacingAndGlyphs">M</text>
<rect x="1762.5" y="5.5" width="50" height="27" rx="4" fill="#fff" stroke="#ebebed" stroke-width="1.2"/>
<text x="1772" y="23.6" textLength="20.9" lengthAdjust="spacingAndGlyphs">USD</text>
<g clip-path="url(#ct)">
<text x="0.8" y="822.5" textLength="26.0" lengthAdjust="spacingAndGlyphs">2025</text>
<text x="184.1" y="822.5" textLength="19.4" lengthAdjust="spacingAndGlyphs">Feb</text>
<text x="354.1" y="822.5" textLength="19.5" lengthAdjust="spacingAndGlyphs">Mar</text>
<text x="543.6" y="822.5" textLength="18.3" lengthAdjust="spacingAndGlyphs">Apr</text>
<text x="730.2" y="822.5" textLength="21.2" lengthAdjust="spacingAndGlyphs">May</text>
<text x="919.8" y="822.5" textLength="18.0" lengthAdjust="spacingAndGlyphs">Jun</text>
<text x="1101.2" y="822.5" textLength="15.2" lengthAdjust="spacingAndGlyphs">Jul</text>
<text x="1296.0" y="822.5" textLength="19.7" lengthAdjust="spacingAndGlyphs">Aug</text>
<text x="1484.3" y="822.5" textLength="19.0" lengthAdjust="spacingAndGlyphs">Sep</text>
<text x="1673.6" y="822.5" textLength="18.3" lengthAdjust="spacingAndGlyphs">Oct</text>
</g>
<path d="M176.5 781.9 L185.1 786.9 L185.1 801.0 L167.9 801.0 L167.9 786.9 Z" fill="#fff" stroke="#fff" stroke-width="4" stroke-linejoin="round"/>
<path d="M176.5 781.9 L185.1 786.9 L185.1 801.0 L167.9 801.0 L167.9 786.9 Z" fill="#fff" stroke="#089981" stroke-width="2" stroke-linejoin="round"/>
<text x="173.6" y="797.2" style="fill:#089981;stroke:none;font-size:12px;font-weight:bold" textLength="5.8" lengthAdjust="spacingAndGlyphs">E</text>
<path d="M741.5 781.9 L750.1 786.9 L750.1 801.0 L732.9 801.0 L732.9 786.9 Z" fill="#fff" stroke="#fff" stroke-width="4" stroke-linejoin="round"/>
<path d="M741.5 781.9 L750.1 786.9 L750.1 801.0 L732.9 801.0 L732.9 786.9 Z" fill="#fff" stroke="#089981" stroke-width="2" stroke-linejoin="round"/>
<text x="738.6" y="797.2" style="fill:#089981;stroke:none;font-size:12px;font-weight:bold" textLength="5.8" lengthAdjust="spacingAndGlyphs">E</text>
<path d="M1297.5 781.9 L1306.1 786.9 L1306.1 801.0 L1288.9 801.0 L1288.9 786.9 Z" fill="#fff" stroke="#fff" stroke-width="4" stroke-linejoin="round"/>
<path d="M1297.5 781.9 L1306.1 786.9 L1306.1 801.0 L1288.9 801.0 L1288.9 786.9 Z" fill="#fff" stroke="#089981" stroke-width="2" stroke-linejoin="round"/>
<text x="1294.6" y="797.2" style="fill:#089981;stroke:none;font-size:12px;font-weight:bold" textLength="5.8" lengthAdjust="spacingAndGlyphs">E</text>
<circle cx="239.5" cy="792.3" r="11" fill="#fff"/>
<circle cx="239.5" cy="792.3" r="9.5" fill="#fff" stroke="#2962ff" stroke-width="2"/>
<text x="236.1" y="796.7" style="fill:#2962ff;stroke:none;font-size:12px;font-weight:bold" textLength="7" lengthAdjust="spacingAndGlyphs">D</text>
<circle cx="804.5" cy="792.3" r="11" fill="#fff"/>
<circle cx="804.5" cy="792.3" r="9.5" fill="#fff" stroke="#2962ff" stroke-width="2"/>
<text x="801.1" y="796.7" style="fill:#2962ff;stroke:none;font-size:12px;font-weight:bold" textLength="7" lengthAdjust="spacingAndGlyphs">D</text>
<circle cx="1360.5" cy="792.3" r="11" fill="#fff"/>
<circle cx="1360.5" cy="792.3" r="9.5" fill="#fff" stroke="#2962ff" stroke-width="2"/>
<text x="1357.1" y="796.7" style="fill:#2962ff;stroke:none;font-size:12px;font-weight:bold" textLength="7" lengthAdjust="spacingAndGlyphs">D</text>
<circle cx="1665.5" cy="792.2" r="9.8" fill="#fff" stroke="#9c27b0" stroke-width="1.5"/>
<path d="M1668.6 787.3 L1661.3 793.1 L1665.3 793.1 L1662.4 798.0 L1670.1 791.9 L1666.1 791.9 Z" fill="#9c27b0"/>
<path d="M1654.9 791.0 Q1655.7 795.0 1659.7 795.8 Q1655.7 796.6 1654.9 800.6 Q1654.1 796.6 1650.1 795.8 Q1654.1 795.0 1654.9 791.0 Z" fill="#fff" stroke="#fff" stroke-width="3" stroke-linejoin="round"/>
<path d="M1654.9 791.0 Q1655.7 795.0 1659.7 795.8 Q1655.7 796.6 1654.9 800.6 Q1654.1 796.6 1650.1 795.8 Q1654.1 795.0 1654.9 791.0 Z" fill="#6f4cff" stroke="#6f4cff" stroke-width="1" stroke-linejoin="round"/>
<text class="lg" x="18.0" y="20.7" textLength="49.3" lengthAdjust="spacingAndGlyphs">Apple Inc</text>
<text class="lg" x="71.7" y="20.7" font-weight="bold" font-size="14">·</text>
<text class="lg" x="80.5" y="20.7" textLength="12.5" lengthAdjust="spacingAndGlyphs">1D</text>
<text class="lg" x="97.3" y="20.7" font-weight="bold" font-size="14">·</text>
<text class="lg" x="105.0" y="20.7" textLength="42.8" lengthAdjust="spacingAndGlyphs">NASDAQ</text>
<text class="lg" x="155.3" y="20.7" textLength="7.9" lengthAdjust="spacingAndGlyphs">O</text>
<text class="lg" x="163.4" y="20.7" textLength="35.3" lengthAdjust="spacingAndGlyphs" style="fill:#f23645;stroke:#f23645">254.56</text>
<text class="lg" x="206.7" y="20.7" textLength="7.3" lengthAdjust="spacingAndGlyphs">H</text>
<text class="lg" x="214.2" y="20.7" textLength="35.4" lengthAdjust="spacingAndGlyphs" style="fill:#f23645;stroke:#f23645">255.00</text>
<text class="lg" x="257.8" y="20.7" textLength="5.6" lengthAdjust="spacingAndGlyphs">L</text>
<text class="lg" x="263.7" y="20.7" textLength="34.5" lengthAdjust="spacingAndGlyphs" style="fill:#f23645;stroke:#f23645">253.01</text>
<text class="lg" x="307.0" y="20.7" textLength="6.6" lengthAdjust="spacingAndGlyphs">C</text>
<text class="lg" x="313.8" y="20.7" textLength="35.3" lengthAdjust="spacingAndGlyphs" style="fill:#f23645;stroke:#f23645">254.43</text>
<text class="lg" x="357.3" y="20.7" textLength="28.6" lengthAdjust="spacingAndGlyphs" style="fill:#f23645;stroke:#f23645">−1.03</text>
<text class="lg" x="390.8" y="20.7" textLength="44.7" lengthAdjust="spacingAndGlyphs" style="fill:#f23645;stroke:#f23645">(−0.40%)</text>
<text class="lg" x="18.0" y="37.7" textLength="15.8" lengthAdjust="spacingAndGlyphs">Vol</text>
<text class="lg" x="41.7" y="37.7" textLength="39.4" lengthAdjust="spacingAndGlyphs" style="fill:#ef5350;stroke:#ef5350">40.11M</text>
<g transform="translate(12,851.667) scale(0.83333)" fill="#131313"><path d="M14 22H7V11H0V4h14v18zM30.6 22H20.2L25.8 4H35.8z"/><circle cx="20.4" cy="7.3" r="3.35"/></g>
<text x="48.9" y="870" textLength="121" lengthAdjust="spacingAndGlyphs" style="font-size:21.2px;font-weight:bold;fill:#131313;stroke:none">TradingView</text>
</svg>
</body></html>
